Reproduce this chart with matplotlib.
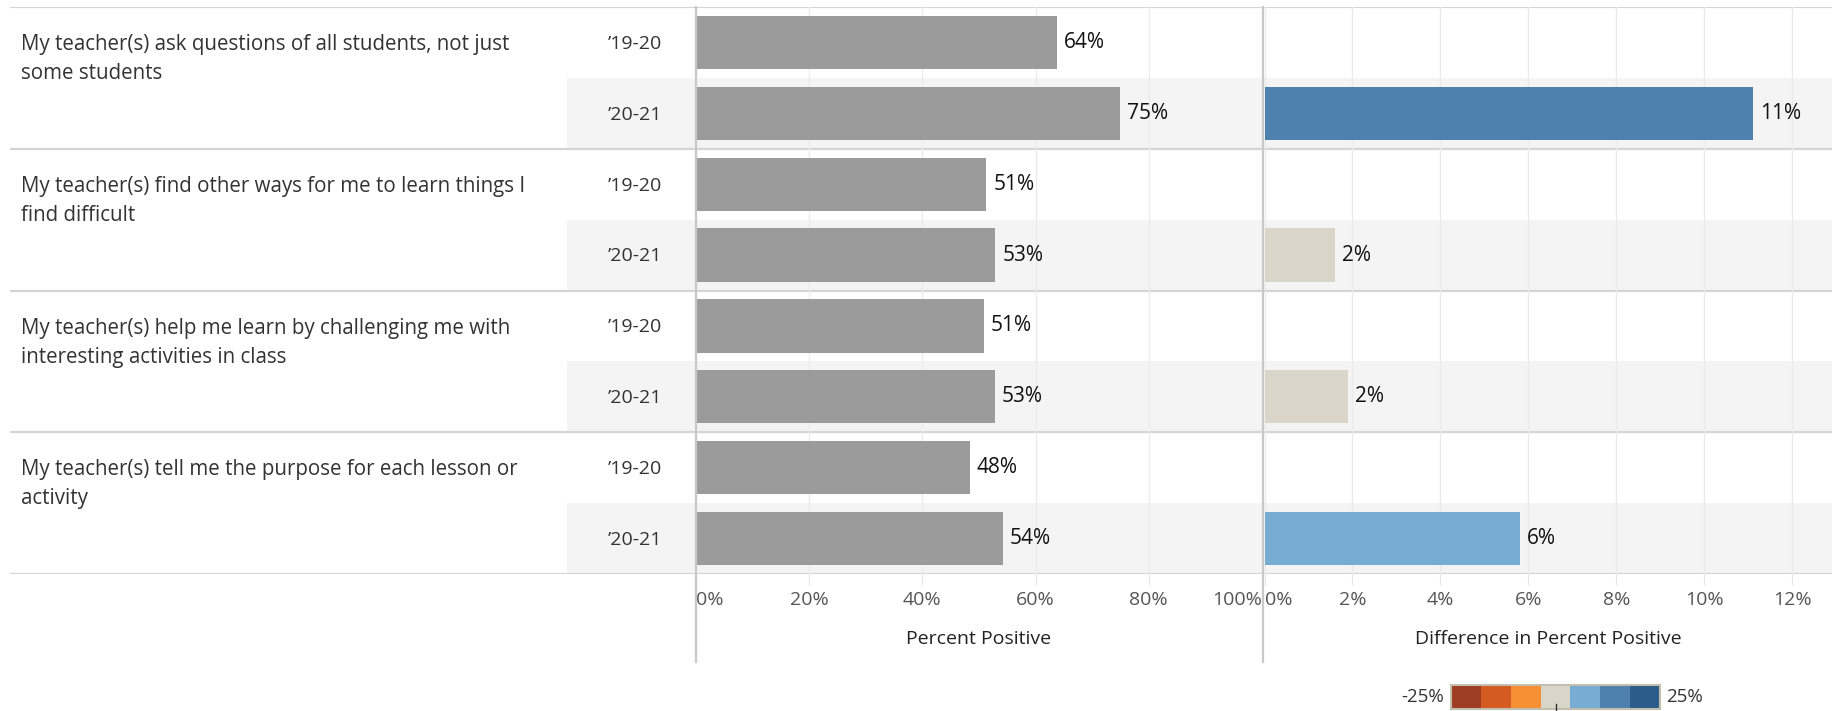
import numpy as np
import matplotlib
matplotlib.use('Agg')
import matplotlib.pyplot as plt
from matplotlib.colors import ListedColormap, BoundaryNorm
from matplotlib.lines import Line2D
from matplotlib.patches import Rectangle

plt.rcParams['font.family'] = ['Open Sans', 'DejaVu Sans']

# data
questions = [
    "My teacher(s) ask questions of all students, not just\nsome students",
    "My teacher(s) find other ways for me to learn things I\nfind difficult",
    "My teacher(s) help me learn by challenging me with\ninteresting activities in class",
    "My teacher(s) tell me the purpose for each lesson or\nactivity",
]
years = ["\u201919-20", "\u201920-21"]
pct_1920 = [63.8, 51.3, 50.9, 48.4]
pct_2021 = [74.9, 52.9, 52.8, 54.2]
diff_pct = [11.1, 1.6, 1.9, 5.8]
pct_ticks = [0, 20, 40, 60, 80, 100]
diff_ticks = [0, 2, 4, 6, 8, 10, 12]
palette = ['#9e3d22', '#d45b21', '#f69035', '#d9d5c9', '#77acd3', '#4f81af', '#2b5c8a']
legend_range = (-25, 25)

# layout in figure pixels
W, H = 1832, 711
top, bot = 7, 574
lx0, lx1 = 696, 1262
rx0, rx1 = 1264.5, 1832
n_rows = len(questions) * len(years)

fig = plt.figure(figsize=(W / 100, H / 100), dpi=100)


def fx(px):
    return px / W


def fy(py):
    return 1 - py / H


# background axes for bands, separators and row labels
bg = fig.add_axes([0, fy(bot), 1, fy(top) - fy(bot)])
bg.set_xlim(0, W)
bg.set_ylim(n_rows, 0)
bg.axis('off')
bg.set_zorder(0)

for g in range(len(questions)):
    r0 = g * len(years)
    bg.add_patch(Rectangle((567, r0 + 1), W - 567, 1, color='#f4f4f4', lw=0, zorder=0))
    bg.plot([10, W], [r0, r0], color='#d4d4d4', lw=1.6, zorder=3, solid_capstyle='butt')
    lines = questions[g].split('\n')
    for k, line in enumerate(lines):
        bg.text(21, r0 + 0.53 + k * 0.41, line, ha='left', va='center',
                fontsize=14.8, color='#333333')
    for j, yr in enumerate(years):
        bg.text(662, r0 + j + 0.52, yr, ha='right', va='center',
                fontsize=14, color='#333333')
bg.plot([10, W], [n_rows, n_rows], color='#d4d4d4', lw=1.6, zorder=3, solid_capstyle='butt')

ypos = np.arange(n_rows) + 0.5
left_vals = []
for a, b in zip(pct_1920, pct_2021):
    left_vals += [a, b]

# left panel: percent positive
axl = fig.add_axes([fx(lx0), fy(bot), fx(lx1) - fx(lx0), fy(top) - fy(bot)])
axl.patch.set_alpha(0)
bars = axl.barh(ypos, left_vals, height=0.75, color='#9b9b9b', zorder=2)
axl.bar_label(bars, labels=[f'{v:.0f}%' for v in left_vals], padding=5,
              fontsize=15, color='#111111')
axl.set_xlim(0, 100)
axl.set_ylim(n_rows, 0)
axl.set_yticks([])
axl.set_xticks(pct_ticks)
axl.set_xticklabels([f'{t}%' for t in pct_ticks])
axl.grid(axis='x', color='#ebebeb', lw=1, zorder=1)
axl.tick_params(axis='x', length=8, color='#e6e6e6', labelsize=14, labelcolor='#555555', pad=4.5)
for s in axl.spines.values():
    s.set_visible(False)
tl = axl.get_xticklabels()
tl[0].set_ha('left')
tl[-1].set_ha('right')
axl.set_xlabel('Percent Positive', fontsize=14, color='#222222', labelpad=15)

# right panel: difference
cmap = ListedColormap(palette)
norm = BoundaryNorm(np.linspace(legend_range[0], legend_range[1], len(palette) + 1), cmap.N)
axr = fig.add_axes([fx(rx0), fy(bot), fx(rx1) - fx(rx0), fy(top) - fy(bot)])
axr.patch.set_alpha(0)
dy = ypos[1::2]
dbars = axr.barh(dy, diff_pct, height=0.75, color=cmap(norm(diff_pct)), zorder=2)
axr.bar_label(dbars, labels=[f'{v:.0f}%' for v in diff_pct], padding=5,
              fontsize=15, color='#111111')
axr.set_xlim(0, 12.9)
axr.set_ylim(n_rows, 0)
axr.set_yticks([])
axr.set_xticks(diff_ticks)
axr.set_xticklabels([f'{t}%' for t in diff_ticks])
axr.grid(axis='x', color='#ebebeb', lw=1, zorder=1)
axr.tick_params(axis='x', length=8, color='#e6e6e6', labelsize=14, labelcolor='#555555', pad=4.5)
for s in axr.spines.values():
    s.set_visible(False)
axr.get_xticklabels()[0].set_ha('left')
axr.set_xlabel('Difference in Percent Positive', fontsize=14, color='#222222', labelpad=15)

# vertical axis lines running down through the tick area
for xp in (lx0, 1263.2):
    fig.add_artist(Line2D([fx(xp), fx(xp)], [fy(top), fy(662)], color='#c8c8c8', lw=1.6))

# colour legend
lg = fig.add_axes([fx(1451), fy(709), fx(1660) - fx(1451), fy(685) - fy(709)])
steps = np.linspace(legend_range[0], legend_range[1], len(palette) + 1)
centers = (steps[:-1] + steps[1:]) / 2
lg.imshow(centers[None, :], cmap=cmap, norm=norm, aspect='auto',
          extent=[legend_range[0], legend_range[1], 0, 1])
lg.set_xlim(*legend_range)
lg.set_xticks([])
lg.set_yticks([])
for s in lg.spines.values():
    s.set_color('#c2beb0')
    s.set_linewidth(1.5)
fig.text(fx(1444), fy(697), f'{legend_range[0]}%', ha='right', va='center', fontsize=13.5, color='#333333')
fig.text(fx(1666), fy(697), f'{legend_range[1]}%', ha='left', va='center', fontsize=13.5, color='#333333')
fig.add_artist(Line2D([fx(1556), fx(1556)], [fy(704), fy(711)], color='#333333', lw=1))

fig.savefig('out.png', dpi=100)
